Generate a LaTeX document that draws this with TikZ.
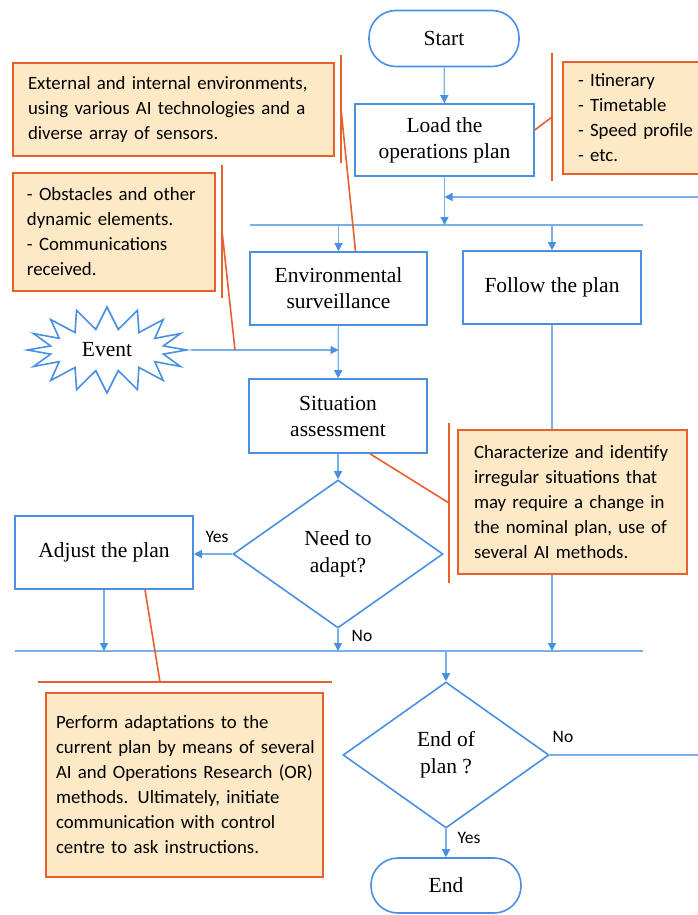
\documentclass[tikz,border=0pt]{standalone}
\usepackage{fontspec}
\setmainfont{Liberation Serif}
\newfontfamily\annfont{Carlito}
\usetikzlibrary{arrows.meta,shapes.geometric,shapes.symbols,calc}
\definecolor{flowblue}{HTML}{4A90E2}
\definecolor{lineblue}{HTML}{7AB0EA}
\definecolor{annorange}{HTML}{E8602C}
\definecolor{annfill}{HTML}{FDE9C6}
\begin{document}
\begin{tikzpicture}[x=1pt,y=-1pt,
  flowbox/.style={draw=flowblue, line width=1.6pt, fill=white, minimum width=178pt, minimum height=73pt, align=center, font=\fontsize{21.5}{26}\selectfont, inner sep=0pt},
  pill/.style={flowbox, rounded corners=27pt, minimum width=150pt, minimum height=56pt},
  decision/.style={diamond, draw=flowblue, line width=1.6pt, fill=white, align=center, font=\fontsize{21.5}{27}\selectfont, inner sep=0pt},
  ann/.style={draw=annorange, line width=1.6pt, fill=annfill, align=left, font=\annfont\fontsize{18.8}{25}\selectfont, inner ysep=0pt},
  bracket/.style={draw=annorange, line width=1.6pt},
  conn/.style={draw=lineblue, line width=1.2pt},
  arr/.style={conn, -{Triangle[length=8pt,width=8pt,color=flowblue]}},
  lab/.style={font=\annfont\fontsize{17.5}{20}\selectfont, inner sep=0pt}
]
\useasboundingbox (0,0) rectangle (698,915);
\fill[white] (0,0) rectangle (698,915);

% flow nodes
\node[pill] (start) at (444,38.5) {Start};
\node[flowbox, minimum width=179pt, minimum height=72pt] (load) at (444.5,140) {Load the\\operations plan};
\node[flowbox, minimum width=177pt] (env) at (338.5,288.5) {Environmental\\surveillance};
\node[flowbox] (follow) at (552,287.5) {Follow the plan};
\node[flowbox, minimum height=74pt] (sit) at (338,416) {Situation\\assessment};
\node[decision, minimum width=210pt, minimum height=148pt] (need) at (338,554) {Need to\\adapt?};
\node[flowbox] (adjust) at (104,552.5) {Adjust the plan};
\node[decision, minimum width=206pt, minimum height=146pt] (eop) at (446,755) {End of\\plan ?};
\node[pill, minimum height=55pt] (endn) at (446,885.5) {End};
\node[starburst, starburst points=16, starburst point height=22pt, random starburst=0,
      draw=flowblue, line width=1.6pt, fill=white, minimum width=159pt, minimum height=86pt,
      inner sep=0pt, font=\fontsize{21.5}{26}\selectfont] (event) at (107,350) {Event};

% bars and coordinates
\coordinate (tbL) at (250,225);
\coordinate (tbR) at (643,225);
\coordinate (bbL) at (15,651);
\coordinate (bbR) at (643,651);
\coordinate (loopR) at (706,0);
\coordinate (loopin) at (444.5,197);

\draw[conn] (tbL) -- (tbR);
\draw[conn] (bbL) -- (bbR);

% flow connectors
\draw[arr] (start) -- (load);
\draw[arr] (load) -- (load.south |- tbL);
\draw[arr] (env.north |- tbL) -- (env.north);
\draw[arr] (follow.north |- tbL) -- (follow.north);
\draw[arr] (env) -- (sit);
\draw[arr] (event.east) -- (event.east -| env.south);
\draw[arr] (sit) -- (need);
\draw[arr] (need.west) -- (need.west -| adjust.east);
\draw[arr] (adjust) -- (adjust.south |- bbL);
\draw[arr] (need) -- (need.south |- bbL);
\draw[arr] (follow) -- (follow.south |- bbL);
\draw[arr] (eop.north |- bbL) -- (eop);
\draw[arr] (eop) -- (endn);
\draw[arr] (eop.east) -- (eop.east -| loopR) |- (loopin);

% labels
\node[lab] (yes1) at (217,537) {Yes};
\node[lab] (no1) at (362,636) {No};
\node[lab] (no2) at (563,737) {No};
\node[lab] (yes2) at (469,838) {Yes};

% annotation boxes
\node[ann, minimum width=321pt, minimum height=93pt, text width=291pt, inner xsep=15pt] (a1) at (173.5,109.5)
  {External and internal environments,\\using various AI technologies and a\\diverse array of sensors.};
\node[ann, minimum width=202pt, minimum height=118pt, text width=184pt, inner xsep=9pt] (a2) at (114,232)
  {\hspace*{5pt}- Obstacles and other\\\hspace*{5pt}dynamic elements.\\\hspace*{5pt}- Communications\\\hspace*{5pt}received.};
\node[ann, minimum width=147pt, minimum height=112pt, text width=127pt, inner xsep=10pt] (a3) at (636.5,118)
  {\hspace*{5pt}- Itinerary\\\hspace*{5pt}- Timetable\\\hspace*{5pt}- Speed profile\\\hspace*{5pt}- etc.};
\node[ann, minimum width=229pt, minimum height=144pt, text width=203pt, inner xsep=13pt] (a4) at (572.5,502)
  {\hspace*{3pt}Characterize and identify\\\hspace*{3pt}irregular situations that\\\hspace*{3pt}may require a change in\\\hspace*{3pt}the nominal plan, use of\\\hspace*{3pt}several AI methods.};
\node[ann, minimum width=277pt, minimum height=184pt, text width=269pt, inner xsep=4pt] (a5) at (184.5,785)
  {\hspace*{6pt}Perform adaptations to the\\\hspace*{6pt}current plan by means of several\\\hspace*{6pt}AI and Operations Research (OR)\\\hspace*{6pt}methods. Ultimately, initiate\\\hspace*{6pt}communication with control\\\hspace*{6pt}centre to ask instructions.};

% annotation brackets
\coordinate (b1t) at (341,55);  \coordinate (b1b) at (341,163); \coordinate (b1m) at (341,109);
\coordinate (b2t) at (222,165); \coordinate (b2b) at (222,298); \coordinate (b2m) at (222,231);
\coordinate (b3t) at (552,53);  \coordinate (b3b) at (552,181); \coordinate (b3m) at (552,117);
\coordinate (b4t) at (449,423); \coordinate (b4b) at (449,583); \coordinate (b4m) at (449,503);
\coordinate (b5l) at (38,682);  \coordinate (b5r) at (332,682); \coordinate (b5m) at (160,682);
\coordinate (evhit) at (235,350);

\draw[bracket] (b1t) -- (b1b);
\draw[bracket] (b1m) -- ($(env.north)+(17,0)$);
\draw[bracket] (b2t) -- (b2b);
\draw[bracket] (b2m) -- (evhit);
\draw[bracket] (b3t) -- (b3b);
\draw[bracket] ($(load.east)+(0,-10)$) -- (b3m);
\draw[bracket] (b4t) -- (b4b);
\draw[bracket] ($(sit.south)+(32,0)$) -- (b4m);
\draw[bracket] (b5l) -- (b5r);
\draw[bracket] ($(adjust.south)+(41,0)$) -- (b5m);
\end{tikzpicture}
\end{document}
